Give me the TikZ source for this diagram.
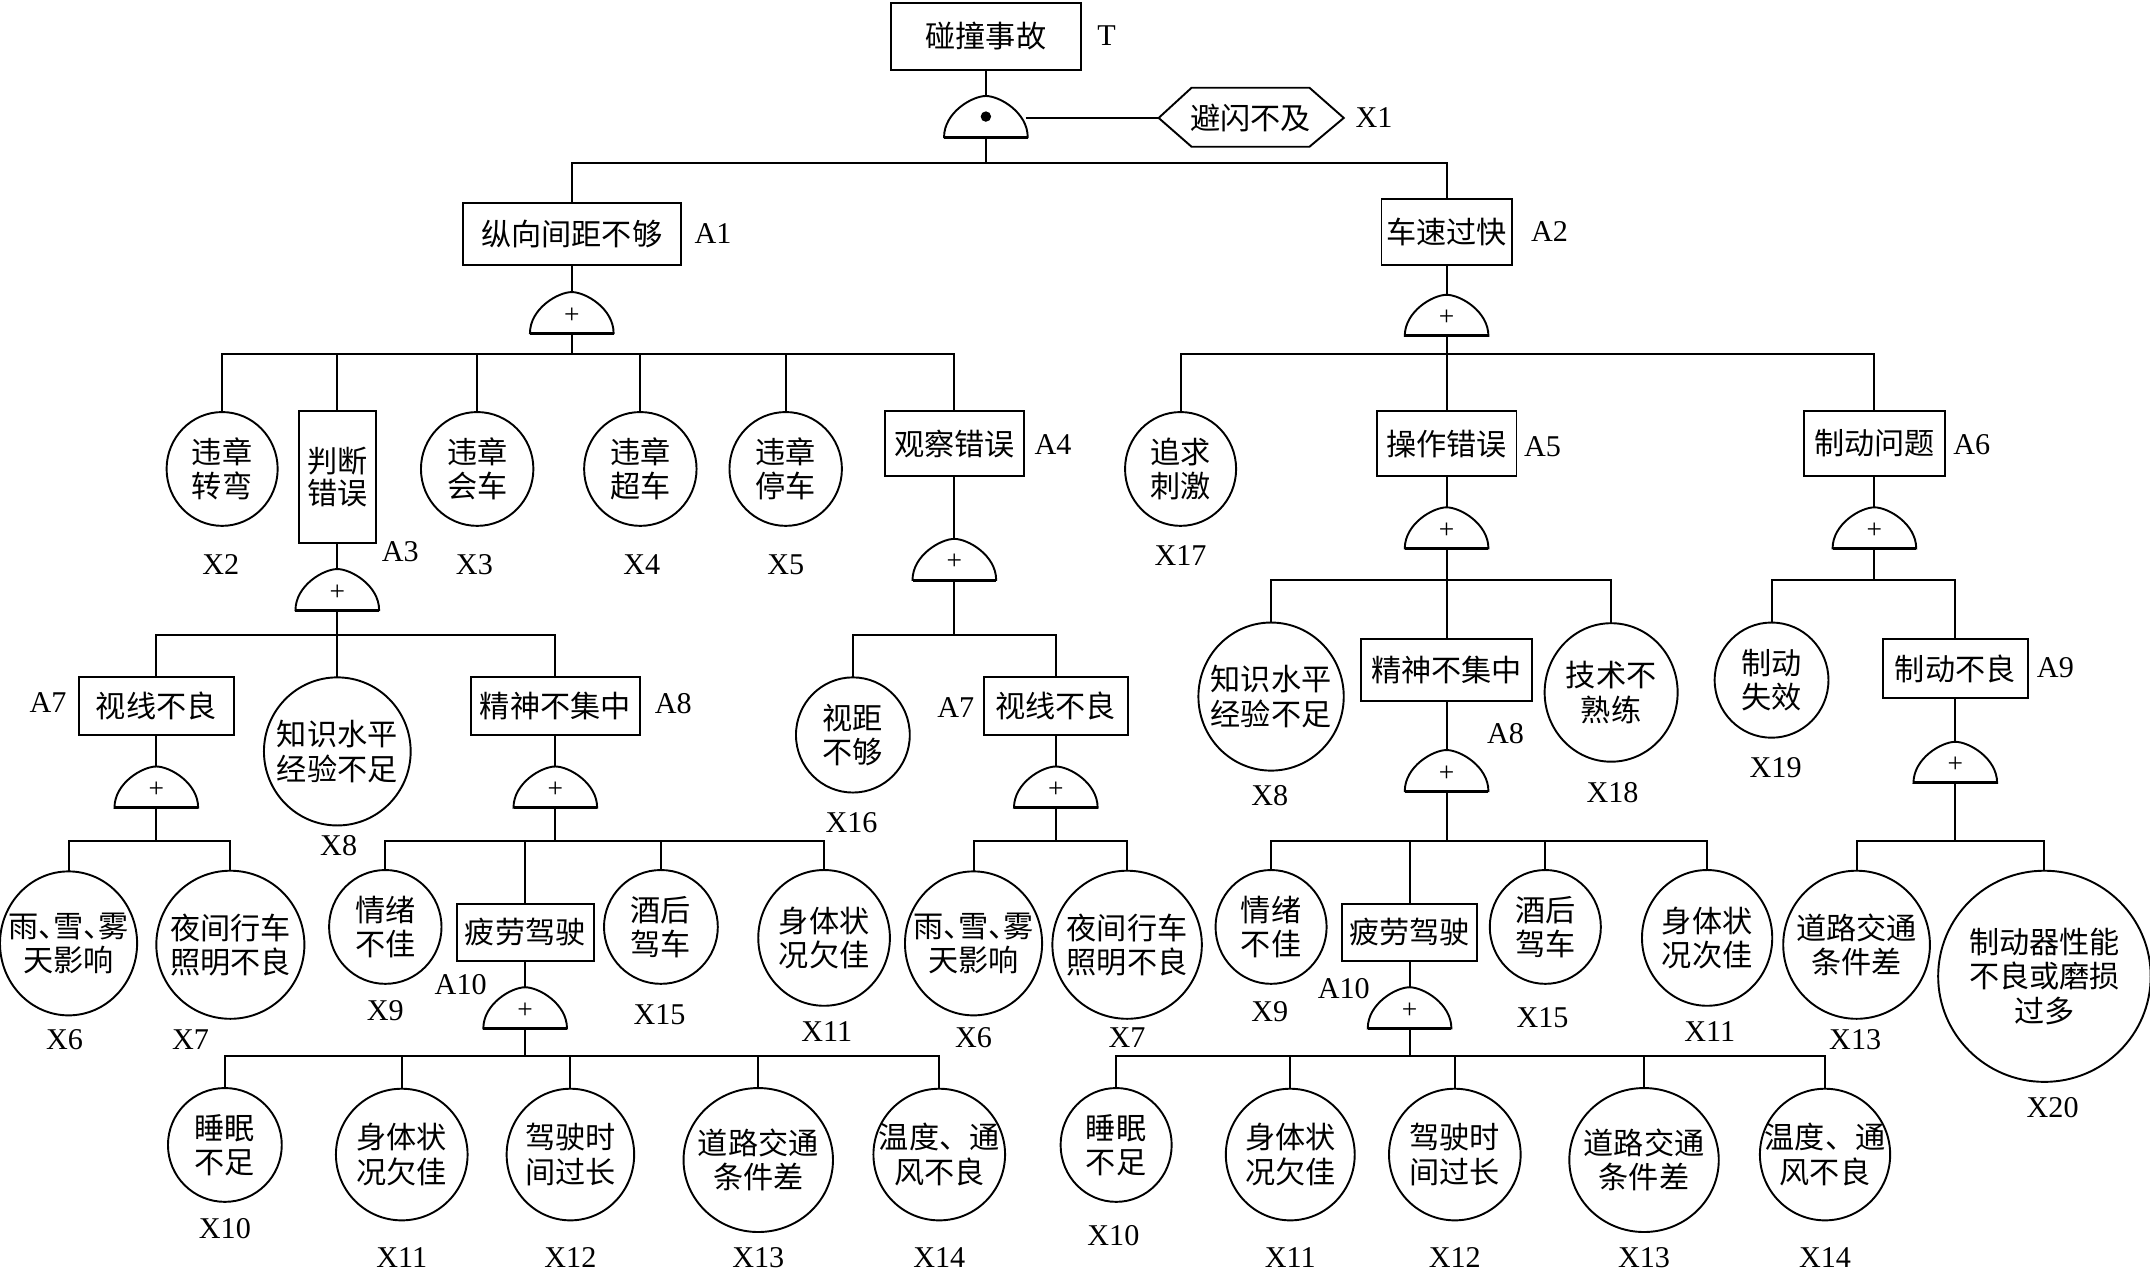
\documentclass[tikz,border=0pt]{standalone}
\usepackage{fontspec}
\setmainfont{Liberation Serif}
\newfontfamily\cjk{Noto Sans CJK SC}
\usetikzlibrary{shapes.geometric}
\tikzset{
  box/.style={draw, rectangle, inner sep=0pt, outer sep=0pt, font=\cjk\fontsize{11}{13}\selectfont, align=center},
  evt/.style={draw, ellipse, inner sep=0pt, outer sep=0pt},
  cn/.style={font=\cjk\fontsize{11}{12.5}\selectfont, align=center, inner sep=0pt},
  lab/.style={font=\fontsize{11}{13}\selectfont, inner sep=0pt},
  gate/.style={draw, fill=white},
  gatebase/.style={line width=1.1pt},
  plussign/.style={font=\fontsize{10}{12}\selectfont, inner sep=0pt},
}
\newcommand\dun{\makebox[0.5em][l]{、}}
% name, x, y, w, h, text, label, lx, ly
\newcommand\FTevent[9]{%
  \node[evt, minimum width=#4*0.5pt, minimum height=#5*0.5pt] (#1) at (#2,#3) {};
  \node[cn] at (#1.center) {#6};
  \node[lab] (#1-l) at (#8,#9) {#7};
}
\newcommand\FTbox[9]{%
  \node[box, minimum width=#4*0.5pt, minimum height=#5*0.5pt] (#1) at (#2,#3) {#6};
  \node[lab] (#1-l) at (#8,#9) {#7};
}
% name, x, ybottom
\newcommand\FTgateshape[3]{%
  \coordinate (#1) at (#2,#3);
  \coordinate (#1-top) at (#2,#3-30);
  \filldraw[gate] (#2-30.5,#3) .. controls (#2-30.5,#3-18) and (#2-10,#3-30) .. (#2,#3-30)
     .. controls (#2+10,#3-30) and (#2+30.5,#3-18) .. (#2+30.5,#3) -- cycle;
  \draw[gatebase] (#2-30.5,#3) -- (#2+30.5,#3);
}
\newcommand\FTor[3]{%
  \FTgateshape{#1}{#2}{#3}
  \node[plussign] at (#2,#3-13) {+};
}
\begin{document}
\begin{tikzpicture}[x=0.5pt, y=-0.5pt, line width=0.7pt]
\useasboundingbox (0,0) rectangle (1568,928);

% ---------- boxes ----------
\FTbox{T}{719}{26.5}{139}{49}{碰撞事故}{T}{807}{26}
\FTbox{A1}{417}{170.5}{159}{45}{纵向间距不够}{A1}{520}{170}
\FTbox{A2}{1055}{169}{95}{48}{车速过快}{A2}{1130}{169}
\node[box, minimum width=56*0.5pt, minimum height=96*0.5pt, font=\cjk\fontsize{11}{11.5}\selectfont] (A3) at (246,348) {判断\\错误};
\node[lab] (A3-l) at (292,402) {A3};
\FTbox{A4}{696}{323.5}{101}{47}{观察错误}{A4}{768}{324}
\FTbox{A5}{1055}{323.5}{102}{47}{操作错误}{A5}{1125}{326}
\FTbox{A6}{1367}{323.5}{103}{47}{制动问题}{A6}{1438}{324}
\FTbox{A7a}{114}{515}{113}{42}{视线不良}{A7}{35}{512}
\FTbox{A7b}{770}{515}{105}{42}{视线不良}{A7}{697}{516}
\FTbox{A8a}{405}{515}{123}{42}{精神不集中}{A8}{491}{513}
\FTbox{A8b}{1055}{488.5}{125}{45}{精神不集中}{A8}{1098}{535}
\FTbox{A9}{1426}{487.5}{106}{43}{制动不良}{A9}{1499}{487}
\FTbox{A10a}{383}{680}{100}{42}{疲劳驾驶}{A10}{336}{718}
\FTbox{A10b}{1028}{680}{98}{42}{疲劳驾驶}{A10}{980}{721}

% ---------- undeveloped event X1 ----------
\node[cn] (X1) at (912,86) {避闪不及};
\draw (845,86) -- (869,64) -- (955,64) -- (980,86) -- (955,107) -- (869,107) -- cycle;
\coordinate (X1w) at (845,86);
\node[lab] (X1-l) at (1002,86) {X1};

% ---------- basic events ----------
\FTevent{X2}{162}{342}{81}{83}{违章\\转弯}{X2}{161}{412}
\FTevent{X3}{348}{342}{82}{83}{违章\\会车}{X3}{346}{412}
\FTevent{X4}{467}{342}{82}{83}{违章\\超车}{X4}{468}{412}
\FTevent{X5}{573}{342}{82}{83}{违章\\停车}{X5}{573}{412}
\FTevent{X17}{861}{342}{81}{83}{追求\\刺激}{X17}{861}{405}
\FTevent{X8a}{246}{548}{107}{108}{知识水平\\经验不足}{X8}{247}{617}
\FTevent{X16}{622}{536}{83}{84}{视距\\不够}{X16}{621}{600}
\FTevent{X8b}{927}{508}{106}{108}{知识水平\\经验不足}{X8}{926}{580}
\FTevent{X18}{1175}{505}{97}{101}{技术不\\熟练}{X18}{1176}{578}
\FTevent{X19}{1292}{496}{83}{84}{制动\\失效}{X19}{1295}{560}

\FTevent{X6a}{50}{688}{100}{105}{雨\dun 雪\dun 雾\\天影响}{X6}{47}{758}
\FTevent{X7a}{168}{689}{108}{108}{夜间行车\\照明不良}{X7}{139}{758}
\FTevent{X6b}{710}{688}{100}{105}{雨\dun 雪\dun 雾\\天影响}{X6}{710}{757}
\FTevent{X7b}{822}{689}{109}{108}{夜间行车\\照明不良}{X7}{822}{757}

\FTevent{X9a}{281}{676}{82}{83}{情绪\\不佳}{X9}{281}{737}
\FTevent{X15a}{482}{676}{83}{83}{酒后\\驾车}{X15}{481}{740}
\FTevent{X11a}{601}{684}{96}{99}{身体状\\况欠佳}{X11}{603}{752}
\FTevent{X9b}{927}{676}{81}{83}{情绪\\不佳}{X9}{926}{738}
\FTevent{X15b}{1127}{676}{81}{83}{酒后\\驾车}{X15}{1125}{742}
\FTevent{X11b}{1245}{684}{95}{99}{身体状\\况次佳}{X11}{1247}{752}
\FTevent{X13c}{1354}{689}{107}{108}{道路交通\\条件差}{X13}{1353}{758}
\FTevent{X20}{1491}{712}{155}{154}{制动器性能\\不良或磨损\\过多}{X20}{1497}{808}

\FTevent{X10a}{164}{835}{83}{83}{睡眠\\不足}{X10}{164}{896}
\FTevent{X11c}{293}{842}{96}{96}{身体状\\况欠佳}{X11}{293}{917}
\FTevent{X12a}{416}{842}{93}{96}{驾驶时\\间过长}{X12}{416}{917}
\FTevent{X13a}{553}{846}{109}{105}{道路交通\\条件差}{X13}{553}{917}
\FTevent{X14a}{685}{842}{96}{96}{温度、通\\风不良}{X14}{685}{917}
\FTevent{X10b}{814}{835}{81}{83}{睡眠\\不足}{X10}{812}{901}
\FTevent{X11d}{941}{842}{94}{96}{身体状\\况欠佳}{X11}{941}{917}
\FTevent{X12b}{1061}{842}{96}{96}{驾驶时\\间过长}{X12}{1061}{917}
\FTevent{X13b}{1199}{846}{109}{105}{道路交通\\条件差}{X13}{1199}{917}
\FTevent{X14b}{1331}{842}{95}{96}{温度、通\\风不良}{X14}{1331}{917}

% ---------- gates ----------
\FTgateshape{G0}{719}{100}
\fill (719,85) circle (3.8);
\coordinate (G0-e) at (748,86);
\FTor{gA1}{417}{243}
\FTor{gA2}{1055}{245}
\FTor{gA3}{246}{445}
\FTor{gA4}{696}{423}
\FTor{gA5}{1055}{400}
\FTor{gA6}{1367}{400}
\FTor{gA7a}{114}{589}
\FTor{gA7b}{770}{589}
\FTor{gA8a}{405}{589}
\FTor{gA8b}{1055}{577}
\FTor{gA9}{1426}{571}
\FTor{gA10a}{383}{750}
\FTor{gA10b}{1028}{750}

% ---------- bus junctions ----------
\coordinate (bT) at (719,119);
\coordinate (bA1) at (417,258);
\coordinate (bA2) at (1055,258);
\coordinate (bA3) at (246,463);
\coordinate (bA4) at (696,463);
\coordinate (bA5) at (1055,423);
\coordinate (bA6) at (1367,423);
\coordinate (bA7a) at (114,613);
\coordinate (bA7b) at (770,613);
\coordinate (bA8a) at (405,613);
\coordinate (bA8b) at (1055,613);
\coordinate (bA9) at (1426,613);
\coordinate (bA10a) at (383,770);
\coordinate (bA10b) at (1028,770);

% ---------- connectors ----------
\draw (T.south) -- (G0-top);
\draw (G0) -- (bT);
\draw (G0-e) -- (X1w);
\foreach \c in {A1,A2} \draw (bT) -| (\c.north);

\draw (A1.south) -- (gA1-top);  \draw (gA1) -- (bA1);
\foreach \c in {X2,A3,X3,X4,X5,A4} \draw (bA1) -| (\c.north);

\draw (A2.south) -- (gA2-top);  \draw (gA2) -- (bA2);
\foreach \c in {X17,A5,A6} \draw (bA2) -| (\c.north);

\draw (A3.south) -- (gA3-top);  \draw (gA3) -- (bA3);
\foreach \c in {A7a,X8a,A8a} \draw (bA3) -| (\c.north);

\draw (A4.south) -- (gA4-top);  \draw (gA4) -- (bA4);
\foreach \c in {X16,A7b} \draw (bA4) -| (\c.north);

\draw (A5.south) -- (gA5-top);  \draw (gA5) -- (bA5);
\foreach \c in {X8b,A8b,X18} \draw (bA5) -| (\c.north);

\draw (A6.south) -- (gA6-top);  \draw (gA6) -- (bA6);
\foreach \c in {X19,A9} \draw (bA6) -| (\c.north);

\draw (A7a.south) -- (gA7a-top);  \draw (gA7a) -- (bA7a);
\foreach \c in {X6a,X7a} \draw (bA7a) -| (\c.north);

\draw (A7b.south) -- (gA7b-top);  \draw (gA7b) -- (bA7b);
\foreach \c in {X6b,X7b} \draw (bA7b) -| (\c.north);

\draw (A8a.south) -- (gA8a-top);  \draw (gA8a) -- (bA8a);
\foreach \c in {X9a,A10a,X15a,X11a} \draw (bA8a) -| (\c.north);

\draw (A8b.south) -- (gA8b-top);  \draw (gA8b) -- (bA8b);
\foreach \c in {X9b,A10b,X15b,X11b} \draw (bA8b) -| (\c.north);

\draw (A9.south) -- (gA9-top);  \draw (gA9) -- (bA9);
\foreach \c in {X13c,X20} \draw (bA9) -| (\c.north);

\draw (A10a.south) -- (gA10a-top);  \draw (gA10a) -- (bA10a);
\foreach \c in {X10a,X11c,X12a,X13a,X14a} \draw (bA10a) -| (\c.north);

\draw (A10b.south) -- (gA10b-top);  \draw (gA10b) -- (bA10b);
\foreach \c in {X10b,X11d,X12b,X13b,X14b} \draw (bA10b) -| (\c.north);
\end{tikzpicture}
\end{document}
